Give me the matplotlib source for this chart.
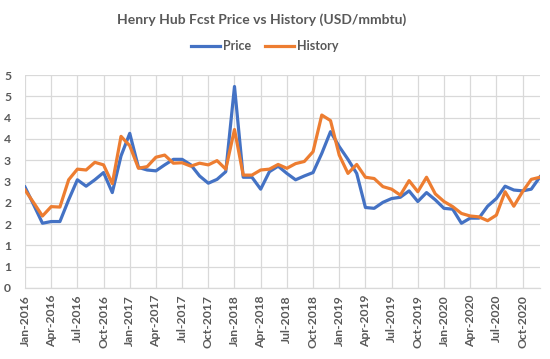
import matplotlib
matplotlib.use("Agg")
import matplotlib.pyplot as plt
from matplotlib.lines import Line2D

months = ["Jan", "Feb", "Mar", "Apr", "May", "Jun", "Jul", "Aug", "Sep", "Oct", "Nov", "Dec"]
dates = [f"{m}-{y}" for y in range(2016, 2021) for m in months]

price = [2.37, 1.95, 1.52, 1.56, 1.56, 2.07, 2.54, 2.39, 2.54, 2.71, 2.24, 3.10,
         3.63, 2.83, 2.77, 2.75, 2.89, 3.02, 3.02, 2.89, 2.63, 2.46, 2.55, 2.73,
         4.73, 2.60, 2.60, 2.32, 2.73, 2.86, 2.69, 2.54, 2.63, 2.71, 3.16, 3.67,
         3.32, 3.02, 2.69, 1.89, 1.87, 2.01, 2.10, 2.13, 2.28, 2.03, 2.24, 2.07,
         1.87, 1.85, 1.52, 1.64, 1.64, 1.92, 2.10, 2.39, 2.30, 2.28, 2.32, 2.61]
history = [2.30, 2.00, 1.69, 1.91, 1.90, 2.54, 2.79, 2.77, 2.95, 2.89, 2.45, 3.56,
           3.34, 2.81, 2.85, 3.07, 3.12, 2.93, 2.94, 2.86, 2.93, 2.89, 2.99, 2.79,
           3.72, 2.65, 2.65, 2.77, 2.79, 2.90, 2.81, 2.92, 2.97, 3.20, 4.06, 3.93,
           3.12, 2.69, 2.90, 2.60, 2.57, 2.38, 2.32, 2.18, 2.52, 2.26, 2.60, 2.21,
           2.03, 1.91, 1.75, 1.69, 1.67, 1.58, 1.71, 2.26, 1.92, 2.26, 2.55, 2.60]

y_ticks = [0, 0.5, 1, 1.5, 2, 2.5, 3, 3.5, 4, 4.5, 5]
y_tick_labels = ["0", "1", "1", "2", "2", "3", "3", "4", "4", "5", "5"]

title = "Henry Hub Fcst Price vs History (USD/mmbtu)"
blue = "#4472C4"
orange = "#ED7D31"
text_col = "#595959"
grid_col = "#D9D9D9"

plt.rcParams['font.family'] = ['Lato', 'DejaVu Sans']

fig = plt.figure(figsize=(5.5, 3.59), dpi=100)
ax = fig.add_axes([25/550, 1-288/359, (540-25)/550, (288-75)/359])

x = list(range(len(dates)))
ax.plot(x, price, color=blue, lw=2.3, solid_joinstyle='round', zorder=3)
ax.plot(x, history, color=orange, lw=2.3, solid_joinstyle='round', zorder=3)

ax.set_xlim(0, len(dates)-1)
ax.set_ylim(0, 5)
xt = x[::3]
ax.set_xticks(xt)
ax.set_xticklabels([dates[i] for i in xt], rotation=90, fontsize=8.7,
                   color=text_col, fontweight='bold')
ax.set_yticks(y_ticks)
ax.set_yticklabels(y_tick_labels, fontsize=8.7, color=text_col, fontweight='bold')
ax.tick_params(axis='both', length=0)
ax.tick_params(axis='y', pad=10)
ax.tick_params(axis='x', pad=5)
ax.grid(True, color=grid_col, lw=0.9)
ax.set_axisbelow(True)
for s in ['top', 'right', 'left']:
    ax.spines[s].set_visible(False)
ax.spines['bottom'].set_color(grid_col)
ax.spines['bottom'].set_linewidth(0.9)

fig.text(262/550, 1-20/359, title, ha='center', va='center', fontsize=10,
         color=text_col, fontweight='bold')

handles = [Line2D([0], [0], color=blue, lw=2.3), Line2D([0], [0], color=orange, lw=2.3)]
fig.legend(handles, ["Price", "History"], loc='center', bbox_to_anchor=(265/550, 1-46/359),
           ncol=2, frameon=False, handlelength=2.3, handletextpad=0.25,
           columnspacing=1.1, labelcolor=text_col, prop={'weight': 'bold', 'size': 9})

fig.savefig("out.png", dpi=100, facecolor='white')
